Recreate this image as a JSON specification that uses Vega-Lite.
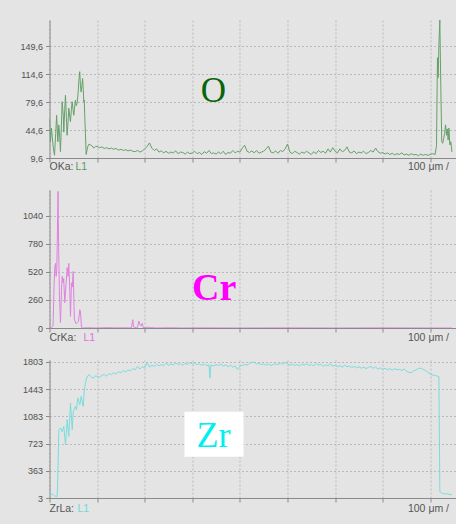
{
  "$schema": "https://vega.github.io/schema/vega-lite/v6.json",
  "background": "#e4e4e4",
  "padding": {"left": 19.5, "top": 20, "right": 0, "bottom": 10},
  "spacing": 32,
  "bounds": "flush",
  "datasets": {
    "O": [
      {"pos": 0, "counts": 59}, {"pos": 0.2, "counts": 30}, {"pos": 0.4, "counts": 47}, {"pos": 0.6, "counts": 35}, {"pos": 0.8, "counts": 22},
      {"pos": 1.05, "counts": 13}, {"pos": 1.3, "counts": 40}, {"pos": 1.5, "counts": 63}, {"pos": 1.75, "counts": 30}, {"pos": 1.95, "counts": 51},
      {"pos": 2.15, "counts": 35}, {"pos": 2.3, "counts": 17.5}, {"pos": 2.5, "counts": 50}, {"pos": 2.65, "counts": 80}, {"pos": 2.8, "counts": 70},
      {"pos": 2.9, "counts": 63}, {"pos": 3.0, "counts": 42}, {"pos": 3.2, "counts": 70}, {"pos": 3.35, "counts": 88}, {"pos": 3.55, "counts": 60},
      {"pos": 3.7, "counts": 38}, {"pos": 3.9, "counts": 55}, {"pos": 4.05, "counts": 72}, {"pos": 4.25, "counts": 62}, {"pos": 4.4, "counts": 55},
      {"pos": 4.6, "counts": 70}, {"pos": 4.75, "counts": 80}, {"pos": 4.95, "counts": 70}, {"pos": 5.1, "counts": 63}, {"pos": 5.3, "counts": 75},
      {"pos": 5.45, "counts": 82}, {"pos": 5.6, "counts": 75}, {"pos": 5.8, "counts": 78}, {"pos": 6.0, "counts": 90}, {"pos": 6.15, "counts": 105},
      {"pos": 6.35, "counts": 117.5}, {"pos": 6.5, "counts": 100}, {"pos": 6.65, "counts": 92}, {"pos": 6.8, "counts": 100}, {"pos": 6.95, "counts": 109},
      {"pos": 7.1, "counts": 95}, {"pos": 7.2, "counts": 80}, {"pos": 7.3, "counts": 82}, {"pos": 7.4, "counts": 63}, {"pos": 7.55, "counts": 40},
      {"pos": 7.7, "counts": 14}, {"pos": 7.9, "counts": 20}, {"pos": 8.05, "counts": 24}, {"pos": 8.3, "counts": 27}, {"pos": 8.6, "counts": 26},
      {"pos": 8.9, "counts": 25}, {"pos": 9.3, "counts": 22}, {"pos": 9.65, "counts": 24},
      {"pos": 10, "counts": 24}, {"pos": 10.5, "counts": 22.5}, {"pos": 11, "counts": 23.5}, {"pos": 11.5, "counts": 21.5}, {"pos": 12, "counts": 22.5},
      {"pos": 12.5, "counts": 21}, {"pos": 13, "counts": 22}, {"pos": 13.5, "counts": 20.5}, {"pos": 14, "counts": 21.5}, {"pos": 14.5, "counts": 19.5},
      {"pos": 15, "counts": 20.5}, {"pos": 15.5, "counts": 19}, {"pos": 16, "counts": 20}, {"pos": 16.5, "counts": 18.5}, {"pos": 17, "counts": 19.5},
      {"pos": 17.5, "counts": 18}, {"pos": 18, "counts": 17.5}, {"pos": 18.5, "counts": 19}, {"pos": 19, "counts": 17}, {"pos": 19.5, "counts": 18.5},
      {"pos": 20, "counts": 21}, {"pos": 20.5, "counts": 24}, {"pos": 21, "counts": 28.5}, {"pos": 21.5, "counts": 22}, {"pos": 22, "counts": 19},
      {"pos": 22.5, "counts": 21}, {"pos": 23, "counts": 17}, {"pos": 23.5, "counts": 18.5}, {"pos": 24, "counts": 16}, {"pos": 24.5, "counts": 18},
      {"pos": 25, "counts": 15.5}, {"pos": 25.5, "counts": 17}, {"pos": 26, "counts": 16}, {"pos": 26.5, "counts": 18.5}, {"pos": 27, "counts": 15},
      {"pos": 27.5, "counts": 17}, {"pos": 28, "counts": 16.5}, {"pos": 28.5, "counts": 14.5}, {"pos": 29, "counts": 17}, {"pos": 29.5, "counts": 15},
      {"pos": 30, "counts": 16}, {"pos": 30.5, "counts": 18}, {"pos": 31, "counts": 15}, {"pos": 31.5, "counts": 16.5}, {"pos": 32, "counts": 14},
      {"pos": 32.5, "counts": 17.5}, {"pos": 33, "counts": 15.5}, {"pos": 33.5, "counts": 19}, {"pos": 34, "counts": 15}, {"pos": 34.5, "counts": 16},
      {"pos": 35, "counts": 14.5}, {"pos": 35.5, "counts": 17}, {"pos": 36, "counts": 15}, {"pos": 36.5, "counts": 18}, {"pos": 37, "counts": 14},
      {"pos": 37.5, "counts": 16.5}, {"pos": 38, "counts": 15.5}, {"pos": 38.5, "counts": 19}, {"pos": 39, "counts": 16}, {"pos": 39.5, "counts": 18},
      {"pos": 40, "counts": 17}, {"pos": 40.5, "counts": 22}, {"pos": 41, "counts": 25.5}, {"pos": 41.5, "counts": 18}, {"pos": 42, "counts": 16.5},
      {"pos": 42.5, "counts": 18.5}, {"pos": 43, "counts": 16}, {"pos": 43.5, "counts": 19}, {"pos": 44, "counts": 15.5}, {"pos": 44.5, "counts": 17},
      {"pos": 45, "counts": 18}, {"pos": 45.5, "counts": 21}, {"pos": 46, "counts": 24.5}, {"pos": 46.5, "counts": 17}, {"pos": 47, "counts": 16},
      {"pos": 47.5, "counts": 18.5}, {"pos": 48, "counts": 15.5}, {"pos": 48.5, "counts": 19}, {"pos": 49, "counts": 17.5}, {"pos": 49.5, "counts": 21},
      {"pos": 50, "counts": 27}, {"pos": 50.5, "counts": 17}, {"pos": 51, "counts": 15}, {"pos": 51.5, "counts": 18}, {"pos": 52, "counts": 16.5},
      {"pos": 52.5, "counts": 14.5}, {"pos": 53, "counts": 17}, {"pos": 53.5, "counts": 15.5}, {"pos": 54, "counts": 18}, {"pos": 54.5, "counts": 16},
      {"pos": 55, "counts": 14}, {"pos": 55.5, "counts": 17.5}, {"pos": 56, "counts": 15}, {"pos": 56.5, "counts": 19}, {"pos": 57, "counts": 16.5},
      {"pos": 57.5, "counts": 18}, {"pos": 58, "counts": 15.5}, {"pos": 58.5, "counts": 21}, {"pos": 59, "counts": 17}, {"pos": 59.5, "counts": 22.5},
      {"pos": 60, "counts": 18}, {"pos": 60.5, "counts": 16}, {"pos": 61, "counts": 21}, {"pos": 61.5, "counts": 17.5}, {"pos": 62, "counts": 19},
      {"pos": 62.5, "counts": 23.5}, {"pos": 63, "counts": 17}, {"pos": 63.5, "counts": 16}, {"pos": 64, "counts": 18.5}, {"pos": 64.5, "counts": 15},
      {"pos": 65, "counts": 17}, {"pos": 65.5, "counts": 16}, {"pos": 66, "counts": 18}, {"pos": 66.5, "counts": 15}, {"pos": 67, "counts": 16.5},
      {"pos": 67.5, "counts": 19}, {"pos": 68, "counts": 17}, {"pos": 68.5, "counts": 22}, {"pos": 69, "counts": 17.5}, {"pos": 69.5, "counts": 15.5},
      {"pos": 70, "counts": 16.5}, {"pos": 70.5, "counts": 14.5}, {"pos": 71, "counts": 16}, {"pos": 71.5, "counts": 14}, {"pos": 72, "counts": 15.5},
      {"pos": 72.5, "counts": 13.5}, {"pos": 73, "counts": 15}, {"pos": 73.5, "counts": 14}, {"pos": 74, "counts": 16}, {"pos": 74.5, "counts": 13.5},
      {"pos": 75, "counts": 14.5}, {"pos": 75.5, "counts": 13}, {"pos": 76, "counts": 15}, {"pos": 76.5, "counts": 13.5}, {"pos": 77, "counts": 14},
      {"pos": 77.5, "counts": 12.5}, {"pos": 78, "counts": 14.5}, {"pos": 78.5, "counts": 13}, {"pos": 79, "counts": 14}, {"pos": 79.5, "counts": 13},
      {"pos": 80, "counts": 14}, {"pos": 80.5, "counts": 15}, {"pos": 81, "counts": 14}, {"pos": 81.3, "counts": 25}, {"pos": 81.5, "counts": 135},
      {"pos": 81.65, "counts": 110}, {"pos": 81.8, "counts": 150}, {"pos": 82.0, "counts": 182}, {"pos": 82.2, "counts": 100}, {"pos": 82.4, "counts": 30},
      {"pos": 82.6, "counts": 28}, {"pos": 82.8, "counts": 34}, {"pos": 83.0, "counts": 40}, {"pos": 83.2, "counts": 51}, {"pos": 83.4, "counts": 38},
      {"pos": 83.55, "counts": 46}, {"pos": 83.75, "counts": 32}, {"pos": 83.9, "counts": 47}, {"pos": 84.1, "counts": 26}, {"pos": 84.3, "counts": 30},
      {"pos": 84.55, "counts": 17}
    ],
    "Cr": [
      {"pos": 0, "counts": 0}, {"pos": 0.42, "counts": 5}, {"pos": 0.74, "counts": 20}, {"pos": 0.95, "counts": 380}, {"pos": 1.1, "counts": 560},
      {"pos": 1.26, "counts": 600}, {"pos": 1.4, "counts": 480}, {"pos": 1.53, "counts": 540}, {"pos": 1.79, "counts": 1268}, {"pos": 1.93, "counts": 700},
      {"pos": 2.1, "counts": 300}, {"pos": 2.31, "counts": 50}, {"pos": 2.52, "counts": 350}, {"pos": 2.67, "counts": 480}, {"pos": 2.84, "counts": 420},
      {"pos": 2.98, "counts": 460}, {"pos": 3.21, "counts": 235}, {"pos": 3.47, "counts": 400}, {"pos": 3.72, "counts": 560}, {"pos": 3.89, "counts": 480},
      {"pos": 4.05, "counts": 600}, {"pos": 4.24, "counts": 380}, {"pos": 4.41, "counts": 108}, {"pos": 4.62, "counts": 420}, {"pos": 4.79, "counts": 380},
      {"pos": 4.98, "counts": 525}, {"pos": 5.15, "counts": 200}, {"pos": 5.25, "counts": 77}, {"pos": 5.57, "counts": 40}, {"pos": 5.82, "counts": 50},
      {"pos": 6.09, "counts": 60}, {"pos": 6.37, "counts": 170}, {"pos": 6.51, "counts": 150}, {"pos": 6.72, "counts": 5}, {"pos": 6.93, "counts": 0},
      {"pos": 8, "counts": 2}, {"pos": 10, "counts": 0}, {"pos": 12, "counts": 3}, {"pos": 14, "counts": 1}, {"pos": 16, "counts": 2},
      {"pos": 17.2, "counts": 0}, {"pos": 17.5, "counts": 77}, {"pos": 17.65, "counts": 10}, {"pos": 18.2, "counts": 3}, {"pos": 18.5, "counts": 5},
      {"pos": 18.76, "counts": 65}, {"pos": 19.0, "counts": 30}, {"pos": 19.3, "counts": 20}, {"pos": 19.5, "counts": 45}, {"pos": 19.65, "counts": 5},
      {"pos": 20.2, "counts": 3}, {"pos": 20.8, "counts": 8}, {"pos": 21.3, "counts": 2}, {"pos": 21.6, "counts": 3}, {"pos": 22.5, "counts": 0},
      {"pos": 25, "counts": 2}, {"pos": 28, "counts": 0}, {"pos": 32, "counts": 1}, {"pos": 40, "counts": 0}, {"pos": 50, "counts": 1},
      {"pos": 60, "counts": 0}, {"pos": 70, "counts": 1}, {"pos": 80, "counts": 0}, {"pos": 84.6, "counts": 0}
    ],
    "Zr": [
      {"pos": 0, "counts": 69}, {"pos": 0.2, "counts": 40}, {"pos": 0.63, "counts": 55}, {"pos": 1.05, "counts": 30}, {"pos": 1.62, "counts": 24},
      {"pos": 1.79, "counts": 400}, {"pos": 1.95, "counts": 907}, {"pos": 2.31, "counts": 930}, {"pos": 2.63, "counts": 880}, {"pos": 3.0, "counts": 950},
      {"pos": 3.36, "counts": 708}, {"pos": 3.72, "counts": 1040}, {"pos": 4.05, "counts": 818}, {"pos": 4.41, "counts": 1260}, {"pos": 4.77, "counts": 907},
      {"pos": 4.98, "counts": 1150}, {"pos": 5.46, "counts": 1215}, {"pos": 5.67, "counts": 1170}, {"pos": 5.95, "counts": 1327}, {"pos": 6.37, "counts": 1238},
      {"pos": 6.66, "counts": 1348}, {"pos": 7.08, "counts": 1215}, {"pos": 7.35, "counts": 1459}, {"pos": 7.77, "counts": 1591}, {"pos": 8.26, "counts": 1635},
      {"pos": 8.82, "counts": 1600}, {"pos": 9.3, "counts": 1591}, {"pos": 9.65, "counts": 1620},
      {"pos": 10, "counts": 1613}, {"pos": 10.5, "counts": 1600}, {"pos": 11, "counts": 1625}, {"pos": 11.5, "counts": 1640}, {"pos": 12, "counts": 1615},
      {"pos": 12.5, "counts": 1650}, {"pos": 13, "counts": 1635}, {"pos": 13.5, "counts": 1660}, {"pos": 14, "counts": 1645}, {"pos": 14.5, "counts": 1675},
      {"pos": 15, "counts": 1660}, {"pos": 15.5, "counts": 1690}, {"pos": 16, "counts": 1670}, {"pos": 16.5, "counts": 1700}, {"pos": 17, "counts": 1685},
      {"pos": 17.5, "counts": 1715}, {"pos": 18, "counts": 1700}, {"pos": 18.5, "counts": 1745}, {"pos": 19, "counts": 1710}, {"pos": 19.5, "counts": 1740},
      {"pos": 20, "counts": 1725}, {"pos": 20.5, "counts": 1798}, {"pos": 21, "counts": 1735}, {"pos": 21.5, "counts": 1760}, {"pos": 22, "counts": 1745},
      {"pos": 22.5, "counts": 1775}, {"pos": 23, "counts": 1750}, {"pos": 23.5, "counts": 1770}, {"pos": 24, "counts": 1755}, {"pos": 24.5, "counts": 1785},
      {"pos": 25, "counts": 1760}, {"pos": 25.5, "counts": 1775}, {"pos": 26, "counts": 1765}, {"pos": 26.5, "counts": 1790}, {"pos": 27, "counts": 1770},
      {"pos": 27.5, "counts": 1780}, {"pos": 28, "counts": 1760}, {"pos": 28.5, "counts": 1785}, {"pos": 29, "counts": 1770}, {"pos": 29.5, "counts": 1795},
      {"pos": 30, "counts": 1775}, {"pos": 30.5, "counts": 1790}, {"pos": 31, "counts": 1765}, {"pos": 31.5, "counts": 1780}, {"pos": 32, "counts": 1760},
      {"pos": 32.5, "counts": 1775}, {"pos": 33, "counts": 1755}, {"pos": 33.5, "counts": 1765}, {"pos": 33.7, "counts": 1590}, {"pos": 33.9, "counts": 1760},
      {"pos": 34.5, "counts": 1750}, {"pos": 35, "counts": 1770}, {"pos": 35.5, "counts": 1755}, {"pos": 36, "counts": 1775}, {"pos": 36.5, "counts": 1750},
      {"pos": 37, "counts": 1765}, {"pos": 37.5, "counts": 1740}, {"pos": 38, "counts": 1760}, {"pos": 38.5, "counts": 1735}, {"pos": 39, "counts": 1750},
      {"pos": 39.5, "counts": 1705}, {"pos": 40, "counts": 1745}, {"pos": 40.5, "counts": 1760}, {"pos": 41, "counts": 1770}, {"pos": 41.5, "counts": 1760},
      {"pos": 42, "counts": 1785}, {"pos": 42.5, "counts": 1798}, {"pos": 43, "counts": 1800}, {"pos": 43.5, "counts": 1775}, {"pos": 44, "counts": 1785},
      {"pos": 44.5, "counts": 1765}, {"pos": 45, "counts": 1780}, {"pos": 45.5, "counts": 1760}, {"pos": 46, "counts": 1775}, {"pos": 46.5, "counts": 1755},
      {"pos": 47, "counts": 1770}, {"pos": 47.5, "counts": 1780}, {"pos": 48, "counts": 1765}, {"pos": 48.5, "counts": 1790}, {"pos": 49, "counts": 1770},
      {"pos": 49.5, "counts": 1795}, {"pos": 50, "counts": 1780}, {"pos": 50.5, "counts": 1760}, {"pos": 51, "counts": 1775}, {"pos": 51.5, "counts": 1755},
      {"pos": 52, "counts": 1770}, {"pos": 52.5, "counts": 1750}, {"pos": 53, "counts": 1775}, {"pos": 53.5, "counts": 1760}, {"pos": 54, "counts": 1780},
      {"pos": 54.5, "counts": 1755}, {"pos": 55, "counts": 1770}, {"pos": 55.5, "counts": 1750}, {"pos": 56, "counts": 1785}, {"pos": 56.5, "counts": 1760},
      {"pos": 57, "counts": 1775}, {"pos": 57.5, "counts": 1745}, {"pos": 58, "counts": 1765}, {"pos": 58.5, "counts": 1750}, {"pos": 59, "counts": 1780},
      {"pos": 59.5, "counts": 1745}, {"pos": 60, "counts": 1760}, {"pos": 60.5, "counts": 1740}, {"pos": 61, "counts": 1755}, {"pos": 61.5, "counts": 1735},
      {"pos": 62, "counts": 1760}, {"pos": 62.5, "counts": 1740}, {"pos": 63, "counts": 1750}, {"pos": 63.5, "counts": 1730}, {"pos": 64, "counts": 1745},
      {"pos": 64.5, "counts": 1725}, {"pos": 65, "counts": 1740}, {"pos": 65.5, "counts": 1720}, {"pos": 66, "counts": 1735}, {"pos": 66.5, "counts": 1715},
      {"pos": 67, "counts": 1730}, {"pos": 67.5, "counts": 1745}, {"pos": 68, "counts": 1720}, {"pos": 68.5, "counts": 1735}, {"pos": 69, "counts": 1710},
      {"pos": 69.5, "counts": 1725}, {"pos": 70, "counts": 1705}, {"pos": 70.5, "counts": 1720}, {"pos": 71, "counts": 1700}, {"pos": 71.5, "counts": 1715},
      {"pos": 72, "counts": 1695}, {"pos": 72.5, "counts": 1715}, {"pos": 73, "counts": 1700}, {"pos": 73.5, "counts": 1705}, {"pos": 74, "counts": 1690},
      {"pos": 74.5, "counts": 1710}, {"pos": 75, "counts": 1680}, {"pos": 75.5, "counts": 1665}, {"pos": 76, "counts": 1660}, {"pos": 76.5, "counts": 1685},
      {"pos": 77, "counts": 1700}, {"pos": 77.5, "counts": 1715}, {"pos": 78, "counts": 1722}, {"pos": 78.5, "counts": 1705}, {"pos": 79, "counts": 1690},
      {"pos": 79.5, "counts": 1665}, {"pos": 80, "counts": 1640}, {"pos": 80.5, "counts": 1630}, {"pos": 81, "counts": 1625}, {"pos": 81.5, "counts": 1615},
      {"pos": 81.8, "counts": 1610}, {"pos": 82.0, "counts": 90}, {"pos": 82.5, "counts": 65}, {"pos": 83, "counts": 55}, {"pos": 83.5, "counts": 60},
      {"pos": 84, "counts": 50}, {"pos": 84.55, "counts": 47}
    ]
  },
  "vconcat": [
    {
      "width": 407,
      "height": 138,
      "layer": [
        {
          "data": {"name": "O"},
          "mark": {"type": "line", "color": "#64a068", "strokeWidth": 1, "clip": true},
          "encoding": {
            "x": {"field": "pos", "type": "quantitative", "scale": {"domain": [0, 85.5], "nice": false, "zero": false},
                  "axis": {"values": [0, 10, 20, 30, 40, 50, 60, 70, 80], "tickCount": 20, "labels": false, "title": null, "grid": true}},
            "y": {"field": "counts", "type": "quantitative", "scale": {"domain": [9.6, 182.1], "nice": false, "zero": false},
                  "axis": {"values": [9.6, 44.6, 79.6, 114.6, 149.6], "tickCount": 20, "labelExpr": "replace(format(datum.value, '.1f'), '.', ',')", "labelOverlap": false, "labelBound": false, "labelFlush": false, "title": null, "grid": true}}
          }
        },
        {
          "data": {"values": [{}]},
          "mark": {"type": "text", "text": "O", "font": "Liberation Serif", "fontSize": 35, "color": "#0a640a", "align": "center", "baseline": "alphabetic"},
          "encoding": {"x": {"datum": 34.45, "type": "quantitative", "title": null}, "y": {"datum": 79, "type": "quantitative", "title": null}}
        },
        {
          "data": {"values": [{}]},
          "mark": {"type": "text", "text": "OKa:", "font": "Liberation Sans", "fontSize": 10.5, "color": "#555555", "align": "left", "baseline": "middle", "dy": 8.5},
          "encoding": {"x": {"datum": 0, "type": "quantitative", "title": null}, "y": {"datum": 9.6, "type": "quantitative", "title": null}}
        },
        {
          "data": {"values": [{}]},
          "mark": {"type": "text", "text": "L1", "font": "Liberation Sans", "fontSize": 10.5, "color": "#5a9a5a", "align": "left", "baseline": "middle", "dy": 8.5, "dx": 26},
          "encoding": {"x": {"datum": 0, "type": "quantitative", "title": null}, "y": {"datum": 9.6, "type": "quantitative", "title": null}}
        },
        {
          "data": {"values": [{}]},
          "mark": {"type": "text", "text": "100 μm / DI", "font": "Liberation Sans", "fontSize": 10.5, "color": "#555555", "align": "left", "baseline": "middle", "dy": 8.5, "limit": 48.5, "ellipsis": "\u200b"},
          "encoding": {"x": {"datum": 75.3, "type": "quantitative", "title": null}, "y": {"datum": 9.6, "type": "quantitative", "title": null}}
        }
      ]
    },
    {
      "width": 407,
      "height": 138,
      "layer": [
        {
          "data": {"name": "Cr"},
          "mark": {"type": "line", "color": "#e080e0", "strokeWidth": 1, "clip": true},
          "encoding": {
            "x": {"field": "pos", "type": "quantitative", "scale": {"domain": [0, 85.5], "nice": false, "zero": false},
                  "axis": {"values": [0, 10, 20, 30, 40, 50, 60, 70, 80], "tickCount": 20, "labels": false, "title": null, "grid": true}},
            "y": {"field": "counts", "type": "quantitative", "scale": {"domain": [0, 1281], "nice": false, "zero": false},
                  "axis": {"values": [0, 260, 520, 780, 1040], "tickCount": 20, "format": "d", "labelOverlap": false, "labelBound": false, "labelFlush": false, "title": null, "grid": true}}
          }
        },
        {
          "data": {"values": [{}]},
          "mark": {"type": "text", "text": "Cr", "font": "Liberation Serif", "fontWeight": "bold", "fontSize": 38, "color": "#ff00ff", "align": "center", "baseline": "alphabetic"},
          "encoding": {"x": {"datum": 34.6, "type": "quantitative", "title": null}, "y": {"datum": 263, "type": "quantitative", "title": null}}
        },
        {
          "data": {"values": [{}]},
          "mark": {"type": "text", "text": "CrKa:", "font": "Liberation Sans", "fontSize": 10.5, "color": "#555555", "align": "left", "baseline": "middle", "dy": 9.5},
          "encoding": {"x": {"datum": 0, "type": "quantitative", "title": null}, "y": {"datum": 0, "type": "quantitative", "title": null}}
        },
        {
          "data": {"values": [{}]},
          "mark": {"type": "text", "text": "L1", "font": "Liberation Sans", "fontSize": 10.5, "color": "#e070e0", "align": "left", "baseline": "middle", "dy": 9.5, "dx": 34},
          "encoding": {"x": {"datum": 0, "type": "quantitative", "title": null}, "y": {"datum": 0, "type": "quantitative", "title": null}}
        },
        {
          "data": {"values": [{}]},
          "mark": {"type": "text", "text": "100 μm / DI", "font": "Liberation Sans", "fontSize": 10.5, "color": "#555555", "align": "left", "baseline": "middle", "dy": 9.5, "limit": 48.5, "ellipsis": "\u200b"},
          "encoding": {"x": {"datum": 75.3, "type": "quantitative", "title": null}, "y": {"datum": 0, "type": "quantitative", "title": null}}
        }
      ]
    },
    {
      "width": 407,
      "height": 138,
      "layer": [
        {
          "data": {"name": "Zr"},
          "mark": {"type": "line", "color": "#7adcdc", "strokeWidth": 1, "clip": true},
          "encoding": {
            "x": {"field": "pos", "type": "quantitative", "scale": {"domain": [0, 85.5], "nice": false, "zero": false},
                  "axis": {"values": [0, 10, 20, 30, 40, 50, 60, 70, 80], "tickCount": 20, "labels": false, "title": null, "grid": true}},
            "y": {"field": "counts", "type": "quantitative", "scale": {"domain": [3, 1829], "nice": false, "zero": false},
                  "axis": {"values": [3, 363, 723, 1083, 1443, 1803], "tickCount": 20, "format": "d", "labelOverlap": false, "labelBound": false, "labelFlush": false, "title": null, "grid": true}}
          }
        },
        {
          "data": {"values": [{}]},
          "mark": {"type": "rect", "color": "#ffffff"},
          "encoding": {"x": {"datum": 28.36, "type": "quantitative", "title": null}, "x2": {"datum": 40.76}, "y": {"datum": 550, "type": "quantitative", "title": null}, "y2": {"datum": 1145}}
        },
        {
          "data": {"values": [{}]},
          "mark": {"type": "text", "text": "Zr", "font": "Liberation Serif", "fontSize": 36, "color": "#00f0f0", "align": "center", "baseline": "alphabetic"},
          "encoding": {"x": {"datum": 34.45, "type": "quantitative", "title": null}, "y": {"datum": 678, "type": "quantitative", "title": null}}
        },
        {
          "data": {"values": [{}]},
          "mark": {"type": "text", "text": "ZrLa:", "font": "Liberation Sans", "fontSize": 10.5, "color": "#555555", "align": "left", "baseline": "middle", "dy": 10.5},
          "encoding": {"x": {"datum": 0, "type": "quantitative", "title": null}, "y": {"datum": 3, "type": "quantitative", "title": null}}
        },
        {
          "data": {"values": [{}]},
          "mark": {"type": "text", "text": "L1", "font": "Liberation Sans", "fontSize": 10.5, "color": "#70d8d8", "align": "left", "baseline": "middle", "dy": 10.5, "dx": 28},
          "encoding": {"x": {"datum": 0, "type": "quantitative", "title": null}, "y": {"datum": 3, "type": "quantitative", "title": null}}
        },
        {
          "data": {"values": [{}]},
          "mark": {"type": "text", "text": "100 μm / DI", "font": "Liberation Sans", "fontSize": 10.5, "color": "#555555", "align": "left", "baseline": "middle", "dy": 10.5, "limit": 48.5, "ellipsis": "\u200b"},
          "encoding": {"x": {"datum": 75.3, "type": "quantitative", "title": null}, "y": {"datum": 3, "type": "quantitative", "title": null}}
        }
      ]
    }
  ],
  "config": {
    "view": {"stroke": null},
    "axis": {
      "domainColor": "#8a8a8a",
      "tickColor": "#8a8a8a",
      "gridColor": "#bababa",
      "gridDash": [2, 2],
      "labelFont": "Liberation Sans",
      "labelFontSize": 9,
      "labelColor": "#505050",
      "labelOverlap": false,
      "tickSize": 4,
      "labelPadding": 3
    }
  }
}
